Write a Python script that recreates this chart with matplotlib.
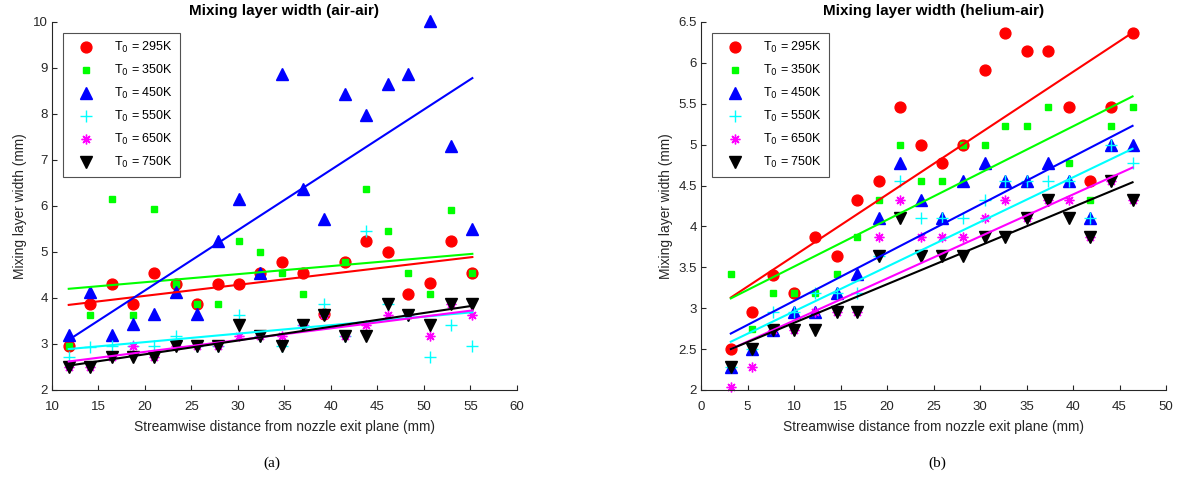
import numpy as np
import matplotlib
matplotlib.use("Agg")
import matplotlib.pyplot as plt

plt.rcParams['font.family'] = ['Liberation Sans', 'DejaVu Sans']

temps = [295, 350, 450, 550, 650, 750]
labels = [r'T$_0$ = %dK' % t for t in temps]

# streamwise stations (mm)
x_air = [11.8, 14.1, 16.4, 18.7, 21.0, 23.3, 25.6, 27.9, 30.1, 32.4,
         34.7, 37.0, 39.2, 41.5, 43.8, 46.1, 48.3, 50.6, 52.9, 55.2]
x_he = [3.2, 5.5, 7.7, 10.0, 12.3, 14.6, 16.8, 19.1, 21.4, 23.6,
        25.9, 28.2, 30.5, 32.7, 35.0, 37.3, 39.6, 41.8, 44.1, 46.4]

# mixing layer width (mm), air-air
w295_air = [2.96, 3.86, 4.31, 3.86, 4.55, 4.31, 3.86, 4.31, 4.31, 4.55,
            4.78, 4.55, 3.65, 4.78, 5.23, 5.00, 4.09, 4.32, 5.23, 4.55]
w350_air = [2.96, 3.64, 6.15, 3.64, 5.93, 4.31, 3.86, 3.86, 5.23, 5.00,
            4.55, 4.09, 3.65, 4.78, 6.37, 5.45, 4.55, 4.09, 5.92, 4.55]
w450_air = [3.20, 4.12, 3.20, 3.44, 3.65, 4.12, 3.65, 5.23, 6.15, 4.55,
            8.88, 6.38, 5.71, 8.43, 7.98, 8.65, 8.88, 10.03, 7.30, 5.49]
w550_air = [2.72, 2.94, 2.96, 2.96, 2.96, 3.18, 2.96, 2.96, 3.64, 3.18,
            2.96, 3.41, 3.86, 3.18, 5.45, 3.86, 3.64, 2.72, 3.41, 2.96]
w650_air = [2.50, 2.50, 2.72, 2.96, 2.72, 2.96, 2.96, 2.96, 3.18, 3.18,
            3.18, 3.41, 3.64, 3.18, 3.41, 3.64, 3.64, 3.18, 3.86, 3.64]
w750_air = [2.50, 2.50, 2.72, 2.72, 2.72, 2.96, 2.96, 2.96, 3.41, 3.18,
            2.96, 3.41, 3.64, 3.18, 3.18, 3.86, 3.64, 3.41, 3.86, 3.86]

# mixing layer width (mm), helium-air
w295_he = [2.50, 2.95, 3.41, 3.18, 3.87, 3.64, 4.32, 4.55, 5.46, 5.00,
           4.78, 5.00, 5.91, 6.37, 6.14, 6.14, 5.46, 4.55, 5.46, 6.37]
w350_he = [3.42, 2.74, 3.18, 3.18, 3.18, 3.42, 3.87, 4.32, 5.00, 4.55,
           4.55, 5.00, 5.00, 5.23, 5.23, 5.46, 4.78, 4.32, 5.23, 5.46]
w450_he = [2.28, 2.50, 2.73, 2.95, 2.95, 3.18, 3.42, 4.10, 4.78, 4.32,
           4.10, 4.55, 4.78, 4.55, 4.55, 4.78, 4.55, 4.10, 5.00, 5.00]
w550_he = [2.28, 2.50, 2.95, 2.95, 3.18, 3.18, 3.18, 3.64, 4.55, 4.10,
           4.10, 4.10, 4.32, 4.55, 4.55, 4.55, 4.55, 4.10, 5.00, 4.78]
w650_he = [2.04, 2.28, 2.73, 2.73, 2.95, 2.95, 2.95, 3.87, 4.32, 3.87,
           3.87, 3.87, 4.10, 4.32, 4.10, 4.32, 4.32, 3.87, 4.55, 4.32]
w750_he = [2.28, 2.50, 2.73, 2.73, 2.73, 2.95, 2.95, 3.64, 4.10, 3.64,
           3.64, 3.64, 3.87, 3.87, 4.10, 4.32, 4.10, 3.87, 4.55, 4.32]

# linear fits: width at first and last station
fit_air = [(3.85, 4.89), (4.20, 4.96), (3.09, 8.78),
           (2.89, 3.69), (2.62, 3.73), (2.53, 3.83)]
fit_he = [(3.13, 6.37), (3.12, 5.59), (2.69, 5.23),
          (2.59, 4.95), (2.50, 4.72), (2.50, 4.54)]

colors = ['#ff0000', '#00ff00', '#0000ff', '#00ffff', '#ff00ff', '#000000']
markers = ['o', 's', '^', '+', (8, 2, 0), 'v']
msizes = [7.8, 4.8, 8, 8, 7, 8]

axcol = '#262626'

fig = plt.figure(figsize=(11.79, 4.8), dpi=100)
ax1 = fig.add_axes([0.0441, 0.1875, 0.3944, 0.7667])
ax2 = fig.add_axes([0.5946, 0.1875, 0.3944, 0.7667])


def draw_panel(ax, x, series, fits, title):
    for w, c, m, s, lab in zip(series, colors, markers, msizes, labels):
        filled = m not in ('+', (8, 2, 0))
        ax.plot(x, w, linestyle='none', marker=m, markersize=s,
                color=c, markerfacecolor=c if filled else 'none',
                markeredgewidth=1.0, label=lab, clip_on=False)
    for (y0, y1), c in zip(fits, colors):
        ax.plot([x[0], x[-1]], [y0, y1], color=c, lw=1.5)
    ax.set_title(title, fontsize=11, fontweight='bold', color='black', pad=5)
    ax.set_xlabel('Streamwise distance from nozzle exit plane (mm)',
                  fontsize=9.9, color=axcol, labelpad=5)
    ax.set_ylabel('Mixing layer width (mm)', fontsize=9.9, color=axcol,
                  labelpad=4)
    for s in ['top', 'right']:
        ax.spines[s].set_visible(False)
    for s in ['left', 'bottom']:
        ax.spines[s].set_color(axcol)
        ax.spines[s].set_linewidth(0.8)
    ax.tick_params(direction='in', length=3.5, width=0.8, colors=axcol,
                   labelsize=9.5)
    ax.tick_params(axis='x', pad=8)
    ax.tick_params(axis='y', pad=3)
    leg = ax.legend(loc='upper left', bbox_to_anchor=(0.024, 0.97),
                    fontsize=9, frameon=True, fancybox=False,
                    borderpad=0.55, labelspacing=0.64, handletextpad=0.9,
                    handlelength=2.6, borderaxespad=0)
    leg.get_frame().set_edgecolor(axcol)
    leg.get_frame().set_linewidth(0.8)


draw_panel(ax1, x_air, [w295_air, w350_air, w450_air, w550_air, w650_air, w750_air],
           fit_air, 'Mixing layer width (air-air)')
ax1.set_xlim(10, 60)
ax1.set_ylim(2, 10)
ax1.set_xticks(np.arange(10, 61, 5))
ax1.set_yticks(np.arange(2, 11, 1))

draw_panel(ax2, x_he, [w295_he, w350_he, w450_he, w550_he, w650_he, w750_he],
           fit_he, 'Mixing layer width (helium-air)')
ax2.set_xlim(0, 50)
ax2.set_ylim(2, 6.5)
ax2.set_xticks(np.arange(0, 51, 5))
ax2.set_yticks(np.arange(2, 6.51, 0.5))
ax2.set_yticklabels(['2', '2.5', '3', '3.5', '4', '4.5', '5', '5.5', '6', '6.5'])

fig.text(0.2307, 0.035, '(a)', family='Liberation Serif', fontsize=11,
         ha='center', va='center')
fig.text(0.7948, 0.035, '(b)', family='Liberation Serif', fontsize=11,
         ha='center', va='center')

fig.savefig('out.png', dpi=100)
